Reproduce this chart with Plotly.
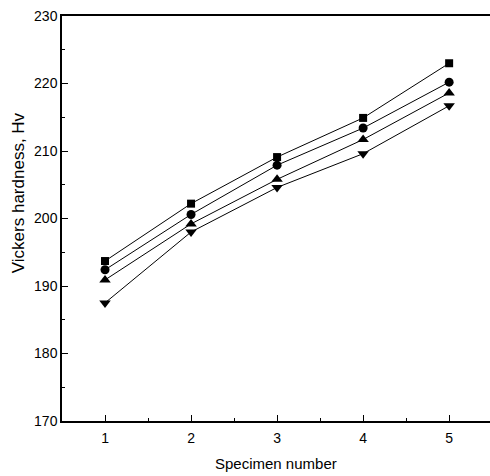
import plotly.graph_objects as go

# Vickers hardness of five specimens, four measurement series
specimens = [1, 2, 3, 4, 5]
hv_square = [193.7, 202.2, 209.1, 214.9, 223.0]
hv_circle = [192.4, 200.6, 207.9, 213.4, 220.2]
hv_triangle_up = [190.9, 199.2, 205.8, 211.7, 218.6]
hv_triangle_down = [187.5, 198.0, 204.6, 209.6, 216.7]

series = [
    (hv_square, "square", 8),
    (hv_circle, "circle", 9),
    (hv_triangle_up, "triangle-up", 10),
    (hv_triangle_down, "triangle-down", 10),
]

fig = go.Figure()
for values, symbol, size in series:
    fig.add_trace(go.Scatter(
        x=specimens, y=values, mode="lines+markers",
        line=dict(color="black", width=1),
        marker=dict(symbol=symbol, size=size, color="black"),
        showlegend=False,
    ))

font_family = "Liberation Sans, Arial, sans-serif"

fig.update_layout(
    width=490, height=476,
    margin=dict(l=62, r=0, t=16, b=55),
    paper_bgcolor="white", plot_bgcolor="white",
    font=dict(family=font_family, color="black", size=14),
    xaxis=dict(
        range=[0.5, 5.475], tickvals=specimens,
        showgrid=False, zeroline=False,
        showline=True, linecolor="black", linewidth=1.5, mirror=True,
        ticks="inside", ticklen=6, tickwidth=1, tickcolor="black",
        minor=dict(dtick=0.5, tick0=0.5, ticks="inside", ticklen=3, tickcolor="black"),
        tickfont=dict(size=14), ticklabelstandoff=3,
    ),
    yaxis=dict(
        range=[170, 230], dtick=10,
        showgrid=False, zeroline=False,
        showline=True, linecolor="black", linewidth=1.5,
        ticks="inside", ticklen=6, tickwidth=1, tickcolor="black",
        minor=dict(dtick=5, ticks="inside", ticklen=3, tickcolor="black"),
        tickfont=dict(size=14),
    ),
    annotations=[
        dict(text="Specimen number", xref="paper", yref="paper",
             x=0.5, y=-0.106, yanchor="middle", xanchor="center",
             showarrow=False, font=dict(size=15)),
        dict(text="Vickers hardness, Hv", xref="paper", yref="paper",
             x=-0.10, xanchor="center", y=0.563, yanchor="middle",
             textangle=-90, showarrow=False, font=dict(size=17)),
    ],
)

fig.write_html("out.html")
